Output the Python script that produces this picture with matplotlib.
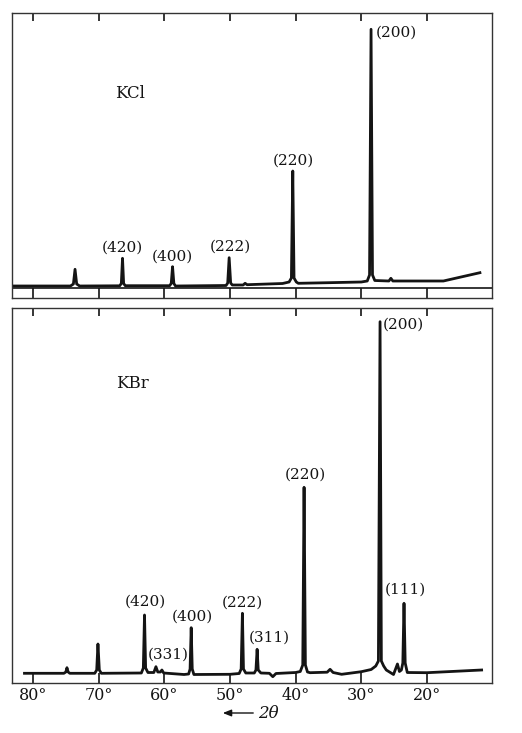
import matplotlib
matplotlib.use("Agg")
import matplotlib.pyplot as plt

# === Traces (2theta in degrees, intensity in arb. units) ===
kcl_theta = [83.1,
             74.3, 73.85, 73.6, 73.35, 72.9,
             66.8, 66.55, 66.37, 66.2, 65.95,
             59.2, 58.95, 58.75, 58.55, 58.3,
             50.6, 50.35, 50.13, 49.9, 49.65,
             48.0, 47.7, 47.4,
             42.0, 41.0, 40.65, 40.44, 40.25, 39.9, 39.6,
             35.0, 30.0, 29.1, 28.75, 28.52, 28.3, 27.95,
             25.8, 25.5, 25.2,
             17.5, 11.94]
kcl_counts = [12.0,
              12.0, 14.0, 28.7, 14.0, 12.0,
              12.2, 14.5, 39.7, 14.5, 12.3,
              12.3, 14.5, 31.3, 14.5, 12.0,
              12.5, 15.0, 40.3, 15.0, 13.0,
              13.0, 14.7, 13.3,
              14.5, 16.0, 20.0, 127.0, 20.0, 16.0, 14.7,
              15.3, 16.0, 17.0, 23.0, 268.7, 23.0, 17.5,
              17.0, 19.7, 17.0,
              17.0, 25.3]

kbr_theta = [81.3,
             75.3, 75.0, 74.83, 74.65, 74.4,
             70.6, 70.3, 70.11, 69.9, 69.6,
             63.5, 63.2, 63.02, 62.85, 62.5,
             61.6, 61.28, 61.0, 60.6, 60.37, 60.1,
             57.0, 56.3, 56.08, 55.91, 55.75, 55.5,
             50.0, 48.6, 48.3, 48.11, 47.95, 47.6,
             46.3, 46.05, 45.87, 45.7, 45.3,
             44.0, 43.48, 43.0,
             40.0, 39.3, 38.92, 38.72, 38.52, 38.2, 37.8,
             35.2, 34.76, 34.3, 33.0, 30.0, 28.5, 27.8, 27.4, 27.15, 26.95, 26.6, 26.2,
             25.1, 24.5, 24.2, 23.9, 23.68, 23.5, 23.32, 23.0,
             20.0, 11.68]
kbr_counts = [9.7,
              9.7, 11.0, 15.3, 11.0, 9.7,
              9.7, 13.0, 39.0, 13.0, 9.7,
              10.0, 15.0, 68.0, 15.0, 10.5,
              10.5, 16.3, 11.0, 11.0, 13.0, 10.0,
              8.5, 9.0, 14.0, 55.3, 14.0, 8.5,
              8.7, 9.5, 14.0, 69.7, 14.0, 10.0,
              10.0, 13.0, 33.7, 13.0, 10.0,
              9.7, 6.3, 9.5,
              10.5, 11.5, 18.0, 195.7, 18.0, 11.0, 10.3,
              10.8, 13.7, 10.5, 8.7, 11.3, 13.5, 17.0, 22.0, 361.3, 22.0, 17.0, 13.0,
              8.5, 19.0, 11.5, 13.0, 20.0, 79.7, 20.0, 10.5,
              10.3, 13.0]

tick_deg = [80, 70, 60, 50, 40, 30, 20]
tick_text = ["80°", "70°", "60°", "50°", "40°", "30°", "20°"]

kcl_labels = ["(420)", "(400)", "(222)", "(220)", "(200)"]
kbr_labels = ["(420)", "(331)", "(400)", "(222)", "(311)", "(220)", "(200)", "(111)"]

# label anchors (theta, intensity)
kcl_label_pos = [(66.4, 50), (58.8, 41), (49.97, 51), (40.39, 137), (24.72, 265)]
kbr_label_pos = [(62.91, 81), (59.44, 28), (55.76, 66), (48.15, 80), (44.04, 45),
                 (38.57, 208), (23.66, 358), (23.36, 93)]

FONT = "DejaVu Serif"
INK = "#141414"

fig = plt.figure(figsize=(5.22, 7.33), dpi=100)
ax_top = fig.add_axes([12 / 522, 1 - 298 / 733, 480 / 522, 285 / 733])
ax_bot = fig.add_axes([12 / 522, 1 - 683 / 733, 480 / 522, 375 / 733])

xlim = (83.2, 10.1)


def style_axes(ax, ymax, show_labels):
    ax.set_xlim(*xlim)
    ax.set_ylim(0, ymax)
    ax.set_yticks([])
    for s in ax.spines.values():
        s.set_linewidth(1.0)
        s.set_color("#333333")
    ax.set_xticks(tick_deg)
    if show_labels:
        ax.set_xticklabels(tick_text, fontfamily=FONT, fontsize=11.5, color=INK)
    else:
        ax.set_xticklabels([])
    ax.tick_params(axis="x", direction="in", length=7.2, width=1.2,
                   color=INK, pad=3)
    top = ax.secondary_xaxis("top")
    top.set_xticks(tick_deg)
    top.set_xticklabels([])
    top.tick_params(direction="in", length=6, width=1.2, color=INK)
    top.spines["top"].set_visible(False)


# === KCl ===
style_axes(ax_top, 285, False)
ax_top.axhline(9.7, color=INK, lw=1.2)
ax_top.plot(kcl_theta, kcl_counts, color=INK, lw=2.0, solid_joinstyle="round")
ax_top.text(65.2, 205, "KCl", fontfamily=FONT, fontsize=12, ha="center",
            va="center", color=INK)
for lab, (xx, yy) in zip(kcl_labels, kcl_label_pos):
    ax_top.text(xx, yy, lab, fontfamily=FONT, fontsize=11, ha="center",
                va="center", color=INK)

# === KBr ===
style_axes(ax_bot, 375, True)
ax_bot.plot(kbr_theta, kbr_counts, color=INK, lw=2.0, solid_joinstyle="round")
ax_bot.text(64.9, 300, "KBr", fontfamily=FONT, fontsize=12, ha="center",
            va="center", color=INK)
for lab, (xx, yy) in zip(kbr_labels, kbr_label_pos):
    ax_bot.text(xx, yy, lab, fontfamily=FONT, fontsize=11, ha="center",
                va="center", color=INK)

# 2theta direction arrow under the axis
fig.text(258 / 522, 1 - 713 / 733, "2θ", fontfamily=FONT, fontsize=12,
         style="italic", ha="left", va="center", color=INK)
fig.add_artist(matplotlib.patches.FancyArrowPatch(
    (256 / 522, 1 - 713 / 733), (220 / 522, 1 - 713 / 733),
    transform=fig.transFigure, arrowstyle="-|>,head_length=5,head_width=2",
    color=INK, lw=1.0))

fig.savefig("out.png", dpi=100)
